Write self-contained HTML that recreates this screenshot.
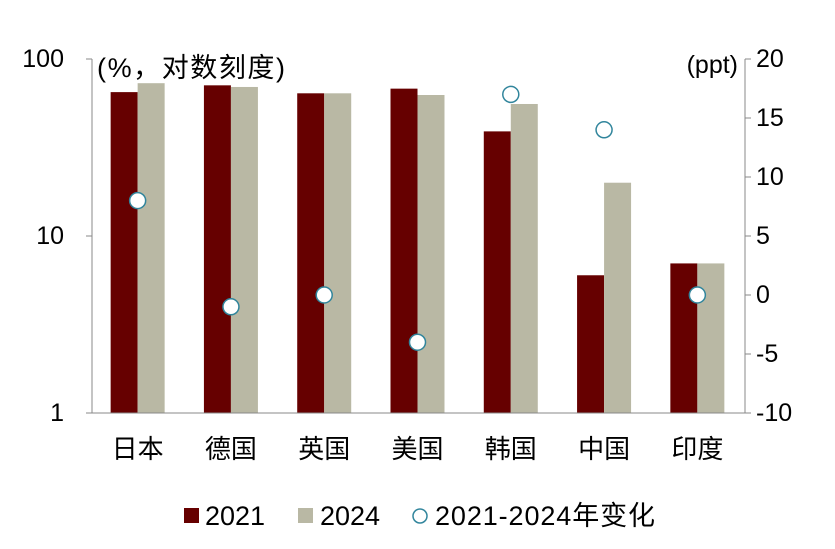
<!DOCTYPE html>
<html><head><meta charset="utf-8"><style>
body{margin:0;background:#fff}
svg text{font-family:"Liberation Sans","Noto Sans CJK SC",sans-serif;fill:#000}
</style></head><body>
<svg id="c" width="835" height="544"></svg>
<script>
const categories=["日本","德国","英国","美国","韩国","中国","印度"];
const s2021=[65,71,64,68,39,6,7];
const s2024=[73,69.5,64,62.6,55.7,20,7];
const change=[8,-1,0,-4,17,14,0];
const leftTicks=[1,10,100];
const rightTicks=[-10,-5,0,5,10,15,20];
const NS="http://www.w3.org/2000/svg";
const svg=document.getElementById('c');
const X0=92,X1=745,Y0=413,Y1=59;
const bw=(X1-X0)/categories.length;
function yL(v){return Y0-(Math.log10(v))/2*(Y0-Y1);}
function yR(v){return Y0-(v+10)/30*(Y0-Y1);}
function mk(t,a,txt){const e=document.createElementNS(NS,t);for(const k in a)e.setAttribute(k,a[k]);if(txt!=null)e.textContent=txt;svg.appendChild(e);return e;}
categories.forEach((c,i)=>{
 const cx=X0+bw*(i+0.5)-1;
 let r=mk('rect',{x:cx-27,y:yL(s2021[i]),width:27,height:Y0-yL(s2021[i]),fill:'#660000'});
 
 
 r=mk('rect',{x:cx,y:yL(s2024[i]),width:27,height:Y0-yL(s2024[i]),fill:'#b9b8a4'});
 
 
 const t=mk('text',{x:cx,y:458,'text-anchor':'middle','font-size':26},c);
 
 
});
categories.forEach((c,i)=>{
 const cx=X0+bw*(i+0.5)-1;
 const p=mk('circle',{cx:cx,cy:yR(change[i]),r:8,fill:'#fff',stroke:'#31859c','stroke-width':1.5});
 
 
});
mk('line',{x1:X0,y1:Y1,x2:X0,y2:Y0,stroke:'#888'});
mk('line',{x1:X1,y1:Y1,x2:X1,y2:Y0,stroke:'#888'});
mk('line',{x1:X0,y1:Y0,x2:X1,y2:Y0,stroke:'#888'});
leftTicks.forEach(v=>{const y=yL(v);mk('line',{x1:X0-6,y1:y,x2:X0,y2:y,stroke:'#888'});
 const t=mk('text',{x:64,y:y+8,'text-anchor':'end','font-size':25},String(v));
 
 });
rightTicks.forEach(v=>{const y=yR(v);mk('line',{x1:X1,y1:y,x2:X1+6,y2:y,stroke:'#888'});
 const t=mk('text',{x:X1+11,y:y+8,'text-anchor':'start','font-size':25},String(v));
 
 });
</script>
<svg width="835" height="544" style="position:absolute;left:0;top:0">
<text x="97" y="77" font-size="27" textLength="188">(%，对数刻度)</text>
<text x="738" y="73" font-size="25" text-anchor="end">(ppt)</text>
<g>
<rect x="184" y="508" width="15" height="15" fill="#660000"/>
<text x="205" y="525" font-size="27" textLength="60">2021</text>
<rect x="298" y="508" width="15" height="15" fill="#b9b8a4"/>
<text x="320" y="525" font-size="27" textLength="60">2024</text>
<circle cx="420" cy="516" r="7" fill="#fff" stroke="#31859c" stroke-width="1.5"/>
<text x="435" y="525" font-size="27" textLength="220">2021-2024年变化</text>
</g>
</svg>
</body></html>
